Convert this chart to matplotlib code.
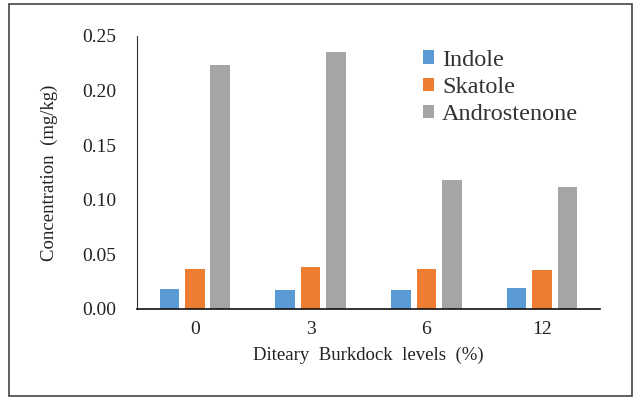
import numpy as np
import matplotlib
matplotlib.use('Agg')
import matplotlib.pyplot as plt
from matplotlib.patches import Rectangle

# data
levels = ['0', '3', '6', '12']
indole = [0.018, 0.017, 0.017, 0.019]
skatole = [0.037, 0.038, 0.037, 0.036]
androstenone = [0.223, 0.235, 0.118, 0.112]
series_names = ['Indole', 'Skatole', 'Androstenone']
colors = ['#5B9BD5', '#ED7D31', '#A5A5A5']

plt.rcParams['font.family'] = ['Liberation Serif', 'DejaVu Serif']

fig = plt.figure(figsize=(6.41, 3.99), dpi=100)
ax = fig.add_axes([0.2137, 0.2256, 0.7223, 0.6842])

x = np.arange(len(levels))
width = 0.17
step = 0.22
for i, (vals, name) in enumerate(zip([indole, skatole, androstenone], series_names)):
    ax.bar(x + (i - 1) * step, vals, width, color=colors[i], label=name)

ax.set_xlim(-0.5, len(levels) - 0.5)
ax.set_ylim(0, 0.25)
ax.set_yticks(np.arange(0, 0.251, 0.05))
ax.set_yticklabels(['%.2f' % v for v in np.arange(0, 0.251, 0.05)])
ax.set_xticks(x)
ax.set_xticklabels(levels)
ax.tick_params(axis='both', length=0, labelsize=14, colors='#222222')
ax.tick_params(axis='y', pad=15)
ax.tick_params(axis='x', pad=9)

for s in ['top', 'right']:
    ax.spines[s].set_visible(False)
ax.spines['left'].set_color('#333333')
ax.spines['bottom'].set_color('#111111')
ax.spines['bottom'].set_linewidth(1.2)

ax.set_xlabel('Diteary  Burkdock  levels  (%)', fontsize=13.5, labelpad=6, color='#222222')
ax.set_ylabel('Concentration  (mg/kg)', fontsize=13.5, labelpad=17, color='#222222')

ax.legend(loc='upper left', bbox_to_anchor=(0.57, 1.03), frameon=False, fontsize=17.5,
          handlelength=0.45, handleheight=0.45, handletextpad=0.35, labelspacing=0.25,
          labelcolor='#333333')

# border around the figure
fig.patches.append(Rectangle((9 / 641, 3 / 399), 623 / 641, 392 / 399, transform=fig.transFigure,
                             fill=False, edgecolor='#444444', linewidth=1.2))

fig.savefig('out.png', dpi=100)
